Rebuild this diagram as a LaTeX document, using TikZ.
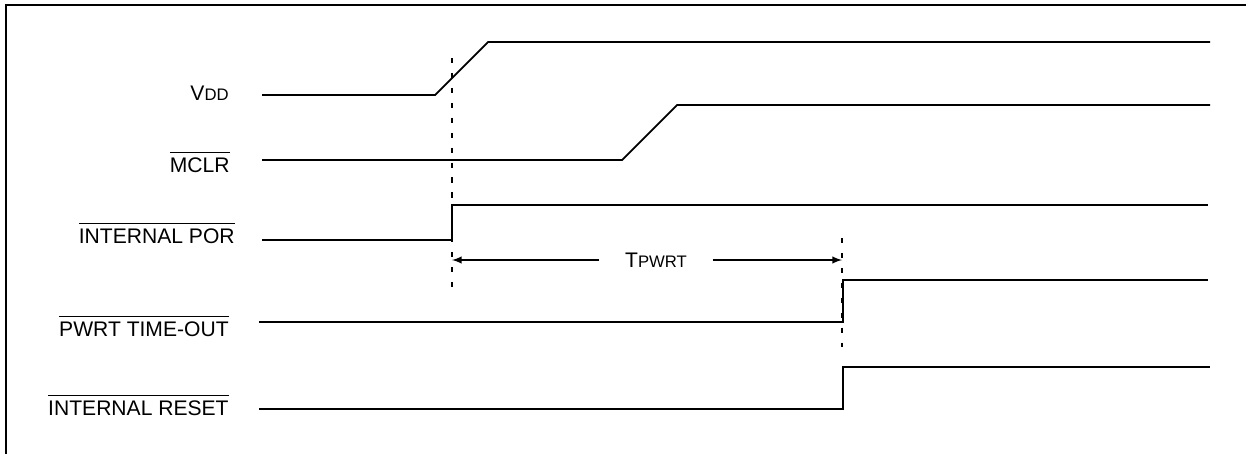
\documentclass[tikz,border=0pt]{standalone}
\usepackage{fontspec}
\setmainfont{Liberation Sans}
\usetikzlibrary{positioning,arrows,calc}

\newcommand{\activelow}[1]{$\overline{\mbox{\rule{0pt}{9.6pt}#1}}$}
\newcommand{\smallpart}[1]{{\fontsize{9.5}{10}\selectfont #1}}

\begin{document}
\begin{tikzpicture}[
    x=0.02cm, y=-0.02cm,
    sig/.style={line width=1pt},
    marker/.style={line width=0.8pt, dash pattern=on 3pt off 5.5pt},
    siglabel/.style={anchor=base east, inner sep=0pt, font=\fontsize{12}{14}\selectfont},
    timing/.style={line width=0.9pt, font=\fontsize{12}{14}\selectfont, inner xsep=0.5cm}
]
\useasboundingbox (0,0) rectangle (1246,454);

% Frame
\draw[line width=1.2pt] (6,454) -- (6,5) -- (1246,5);

% Signal names
\node[siglabel] (vdd) at (229,100) {V\smallpart{DD}};
\node[siglabel] (mclr) at (230,172) {\activelow{MCLR}};
\node[siglabel] (por) at (235,243) {\activelow{INTERNAL POR}};
\node[siglabel] (pwrt) at (229,336) {\activelow{PWRT TIME-OUT}};
\node[siglabel] (reset) at (229,415) {\activelow{INTERNAL RESET}};

% Waveforms
\draw[sig] (262,95) -- (435,95) -- (488,42) -- (1210,42);
\draw[sig] (262,160) -- (622,160) -- (677,105) -- (1210,105);
\draw[sig] (262,240) -- (452,240) -- (452,205) -- (1208,205);
\draw[sig] (259,322) -- (843,322) -- (843,280) -- (1208,280);
\draw[sig] (259,409) -- (843,409) -- (843,367) -- (1210,367);

% Timing markers
\draw[marker] (452,58) -- (452,296);
\draw[marker] (842,238) -- (842,347);

% Power-up timer
\coordinate (tstart) at (452,260);
\coordinate (tend) at (842,260);
\node[timing] (tpwrt) at (656,260) {T\smallpart{PWRT}};
\draw[timing, -latex] (tpwrt) -- (tstart);
\draw[timing, -latex] (tpwrt) -- (tend);

\end{tikzpicture}
\end{document}
